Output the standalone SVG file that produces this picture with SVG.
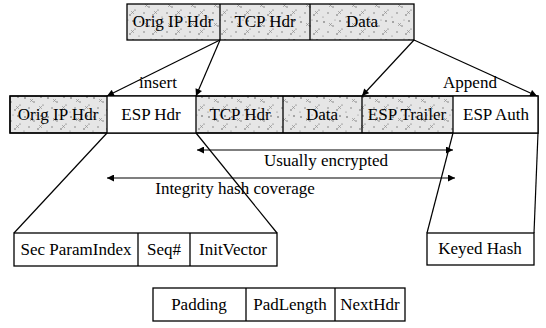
<svg xmlns="http://www.w3.org/2000/svg" width="546" height="328" viewBox="0 0 546 328">
<defs>
<pattern id="stip" width="23" height="19" patternUnits="userSpaceOnUse">
<rect width="23" height="19" fill="#e6e6e6"/>
<circle cx="2" cy="3" r="0.8" fill="#555"/>
<circle cx="11" cy="7" r="0.7" fill="#666"/>
<circle cx="18" cy="2" r="0.8" fill="#555"/>
<circle cx="6" cy="13" r="0.7" fill="#666"/>
<circle cx="15" cy="15" r="0.8" fill="#666"/>
<circle cx="20" cy="10" r="0.6" fill="#555"/>
<circle cx="13" cy="1" r="0.5" fill="#777"/>
<path d="M7 4l3 3M10 4l-3 3M16 11l3 3M19 11l-3 3" stroke="#888" stroke-width="0.6"/>
<circle cx="1" cy="17" r="0.6" fill="#777"/>
</pattern>
<marker id="ah" viewBox="0 0 10 10" refX="10" refY="5" markerWidth="8" markerHeight="7" orient="auto-start-reverse" markerUnits="userSpaceOnUse">
<path d="M0 0L10 5L0 10z" fill="#000"/>
</marker>
</defs>
<style>
text{font-family:"Liberation Serif","Times New Roman",serif;font-size:17px;fill:#000;text-anchor:middle}
.b{stroke:#000;stroke-width:1.3}
.s{fill:url(#stip)}
.w{fill:#fff}
.ln{stroke:#000;stroke-width:1.2;fill:none}
</style>
<g id="top-row">
<rect class="b s" x="127" y="4" width="287" height="36"/>
<line class="b" x1="220" y1="4" x2="220" y2="40"/>
<line class="b" x1="310" y1="4" x2="310" y2="40"/>
<text x="173" y="27">Orig IP Hdr</text>
<text x="265" y="27">TCP Hdr</text>
<text x="362" y="27">Data</text>
</g>
<g id="esp-packet">
<rect class="b s" x="10" y="96" width="528" height="37"/>
<rect class="w" x="107" y="96" width="89" height="37"/>
<rect class="w" x="453" y="96" width="85" height="37"/>
<rect class="b" x="10" y="96" width="528" height="37" fill="none"/>
<line class="b" x1="107" y1="96" x2="107" y2="133"/>
<line class="b" x1="196" y1="96" x2="196" y2="133"/>
<line class="b" x1="283" y1="96" x2="283" y2="133"/>
<line class="b" x1="362" y1="96" x2="362" y2="133"/>
<line class="b" x1="453" y1="96" x2="453" y2="133"/>
<text x="58" y="120">Orig IP Hdr</text>
<text x="151" y="120">ESP Hdr</text>
<text x="240" y="120">TCP Hdr</text>
<text x="322" y="120">Data</text>
<text x="407" y="120">ESP Trailer</text>
<text x="496" y="120">ESP Auth</text>
</g>
<g id="esp-hdr-fields">
<rect class="b w" x="14" y="233" width="263" height="33"/>
<line class="b" x1="138" y1="233" x2="138" y2="266"/>
<line class="b" x1="190" y1="233" x2="190" y2="266"/>
<text x="76" y="255">Sec ParamIndex</text>
<text x="164" y="255">Seq#</text>
<text x="233" y="255">InitVector</text>
</g>
<g id="keyed-hash">
<rect class="b w" x="427" y="233" width="107" height="32"/>
<text x="480" y="254">Keyed Hash</text>
</g>
<g id="trailer-fields">
<rect class="b w" x="153" y="288" width="252" height="33"/>
<line class="b" x1="246" y1="288" x2="246" y2="321"/>
<line class="b" x1="335" y1="288" x2="335" y2="321"/>
<text x="199" y="310">Padding</text>
<text x="290" y="310">PadLength</text>
<text x="370" y="310">NextHdr</text>
</g>
<g id="connectors">
<line class="ln" x1="220" y1="40" x2="107" y2="96" marker-end="url(#ah)"/>
<line class="ln" x1="220" y1="40" x2="196" y2="96" marker-end="url(#ah)"/>
<line class="ln" x1="414" y1="40" x2="362" y2="96" marker-end="url(#ah)"/>
<line class="ln" x1="414" y1="40" x2="537" y2="96" marker-end="url(#ah)"/>
<line class="ln" x1="197" y1="150" x2="453" y2="150" marker-start="url(#ah)" marker-end="url(#ah)"/>
<line class="ln" x1="107" y1="178" x2="455" y2="178" marker-start="url(#ah)" marker-end="url(#ah)"/>
<line class="ln" x1="107" y1="133" x2="14" y2="233"/>
<line class="ln" x1="196" y1="133" x2="277" y2="233"/>
<line class="ln" x1="453" y1="133" x2="427" y2="233"/>
<line class="ln" x1="538" y1="133" x2="534" y2="233"/>
<text x="158" y="88">insert</text>
<text x="470" y="88">Append</text>
<text x="326" y="166">Usually encrypted</text>
<text x="235" y="194">Integrity hash coverage</text>
</g>
</svg>
